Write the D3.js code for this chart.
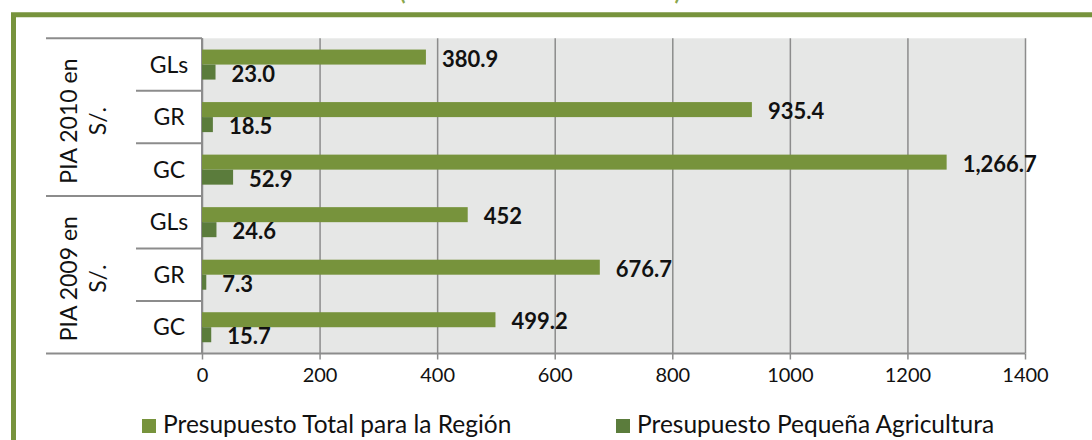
<!DOCTYPE html>
<html>
<head>
<meta charset="utf-8">
<script src="https://cdn.jsdelivr.net/npm/d3@7"></script>
<style>
  body { margin: 0; background: #fff; }
  svg { display: block; font-family: Lato, "Open Sans", sans-serif; }
</style>
</head>
<body>
<div id="chart"></div>
<script>
// data, top row first
var groups = ['PIA 2010 en S/.', 'PIA 2009 en S/.'];
var groupLines = [['PIA 2010 en', 'S/.'], ['PIA 2009 en', 'S/.']];
var categories = ['GLs', 'GR', 'GC'];
var totalValues = [380.9, 935.4, 1266.7, 452, 676.7, 499.2];
var smallValues = [23.0, 18.5, 52.9, 24.6, 7.3, 15.7];
var totalLabels = ['380.9', '935.4', '1,266.7', '452', '676.7', '499.2'];
var smallLabels = ['23.0', '18.5', '52.9', '24.6', '7.3', '15.7'];
var seriesNames = ['Presupuesto Total para la Región', 'Presupuesto Pequeña Agricultura'];
var xTicks = [0, 200, 400, 600, 800, 1000, 1200, 1400];

var W = 1092, H = 440;
var green = '#77933c', darkGreen = '#5b7c3c', gridGray = '#8c8c8c';
var plot = {left: 202, right: 1025, top: 38.3, bottom: 353.5};

var svg = d3.select('#chart').append('svg')
    .attr('width', W)
    .attr('height', H);

// title, mostly cut off at the top (as in the source picture)
svg.append('text')
    .attr('x', 540).attr('y', 0)
    .attr('text-anchor', 'middle')
    .attr('font-weight', 'bold')
    .attr('font-size', 22)
    .attr('fill', '#8aa64c')
    .text('(en millones de nuevos soles)');

// green frame (top + left)
svg.append('path')
    .attr('d', 'M13.5,' + H + 'V14.7H' + W)
    .attr('fill', 'none')
    .attr('stroke', green)
    .attr('stroke-width', 5);

// rows
var rows = [];
groups.forEach(function (g, gi) {
    categories.forEach(function (c, ci) {
        var i = gi * categories.length + ci;
        rows.push({key: g + '|' + c, group: gi, cat: c,
            total: totalValues[i], small: smallValues[i],
            totalLabel: totalLabels[i], smallLabel: smallLabels[i]});
    });
});

var x = d3.scaleLinear().domain([0, 1400]).range([plot.left, plot.right]);
var y = d3.scaleBand()
    .domain(rows.map(function (d) { return d.key; }))
    .range([plot.top, plot.bottom]);
var ySeries = d3.scaleBand()
    .domain(['total', 'small'])
    .range([0, y.bandwidth()])
    .paddingInner(0)
    .paddingOuter(0.75);

// plot background
svg.append('rect')
    .attr('x', plot.left).attr('y', plot.top)
    .attr('width', plot.right - plot.left)
    .attr('height', plot.bottom - plot.top)
    .attr('fill', '#e6e7e6');

// gridlines + ticks
var xAxis = d3.axisBottom(x)
    .tickValues(xTicks)
    .tickSize(-(plot.bottom - plot.top))
    .tickFormat('');
var grid = svg.append('g')
    .attr('transform', 'translate(0,' + plot.bottom + ')')
    .call(xAxis);
grid.select('.domain').remove();
grid.selectAll('line').attr('stroke', gridGray).attr('stroke-width', 1.5);

var xAxis2 = d3.axisBottom(x)
    .tickValues(xTicks)
    .tickSize(6)
    .tickPadding(8)
    .tickFormat(d3.format('d'));
var axis = svg.append('g')
    .attr('transform', 'translate(0,' + plot.bottom + ')')
    .call(xAxis2);
axis.select('.domain')
    .attr('d', 'M' + plot.left + ',0H' + plot.right)
    .attr('stroke', gridGray).attr('stroke-width', 2);
axis.selectAll('line').attr('stroke', gridGray).attr('stroke-width', 1.5);
axis.selectAll('text')
    .attr('font-family', 'Lato, sans-serif')
    .attr('font-size', 20)
    .attr('fill', '#111');

// vertical category axis line
svg.append('line')
    .attr('x1', plot.left).attr('x2', plot.left)
    .attr('y1', plot.top).attr('y2', plot.bottom)
    .attr('stroke', gridGray).attr('stroke-width', 2);

// category table lines
var tableLeft = 46, catLeft = 136;
var lines = svg.append('g').attr('stroke', gridGray).attr('stroke-width', 2);
rows.forEach(function (d, i) {
    var yy = y(d.key);
    var first = i % categories.length === 0;
    lines.append('line')
        .attr('x1', first ? tableLeft : catLeft).attr('x2', plot.left)
        .attr('y1', yy).attr('y2', yy);
});
lines.append('line')
    .attr('x1', tableLeft).attr('x2', plot.left)
    .attr('y1', plot.bottom).attr('y2', plot.bottom);

// category labels
svg.append('g').selectAll('text')
    .data(rows)
    .join('text')
    .attr('x', (catLeft + plot.left) / 2)
    .attr('y', function (d) { return y(d.key) + y.bandwidth() / 2; })
    .attr('dy', '0.35em')
    .attr('text-anchor', 'middle')
    .attr('font-size', 23)
    .attr('fill', '#111')
    .text(function (d) { return d.cat; });

// group labels (rotated, two lines)
groupLines.forEach(function (gl, gi) {
    var first = rows[gi * categories.length];
    var last = rows[gi * categories.length + categories.length - 1];
    var cy = (y(first.key) + y(last.key) + y.bandwidth()) / 2 + 4;
    var t = svg.append('text')
        .attr('transform', 'translate(77,' + cy + ') rotate(-90)')
        .attr('text-anchor', 'middle')
        .attr('font-size', 23)
        .attr('fill', '#111');
    gl.forEach(function (line, li) {
        t.append('tspan')
            .attr('x', 0)
            .attr('y', li * 29)
            .text(line);
    });
});

// bars
var bars = svg.append('g');
bars.selectAll('rect.total')
    .data(rows)
    .join('rect')
    .attr('class', 'total')
    .attr('x', x(0))
    .attr('y', function (d) { return y(d.key) + ySeries('total'); })
    .attr('width', function (d) { return x(d.total) - x(0); })
    .attr('height', ySeries.bandwidth())
    .attr('fill', green);
bars.selectAll('rect.small')
    .data(rows)
    .join('rect')
    .attr('class', 'small')
    .attr('x', x(0))
    .attr('y', function (d) { return y(d.key) + ySeries('small'); })
    .attr('width', function (d) { return x(d.small) - x(0); })
    .attr('height', ySeries.bandwidth())
    .attr('fill', darkGreen);

// value labels
var labels = svg.append('g')
    .attr('font-weight', 'bold')
    .attr('font-size', 22)
    .attr('fill', '#111');
labels.selectAll('text.total')
    .data(rows)
    .join('text')
    .attr('class', 'total')
    .attr('x', function (d) { return x(d.total) + 16; })
    .attr('y', function (d) { return y(d.key) + ySeries('total') + ySeries.bandwidth() / 2 + 2; })
    .attr('dy', '0.35em')
    .text(function (d) { return d.totalLabel; });
labels.selectAll('text.small')
    .data(rows)
    .join('text')
    .attr('class', 'small')
    .attr('x', function (d) { return x(d.small) + 16; })
    .attr('y', function (d) { return y(d.key) + ySeries('small') + ySeries.bandwidth() / 2 + 2; })
    .attr('dy', '0.35em')
    .text(function (d) { return d.smallLabel; });

// legend
var legendX = [142, 616];
var legendColors = [green, darkGreen];
var legend = svg.append('g').selectAll('g')
    .data(seriesNames)
    .join('g')
    .attr('transform', function (d, i) { return 'translate(' + legendX[i] + ',419)'; });
legend.append('rect')
    .attr('width', 14).attr('height', 14)
    .attr('fill', function (d, i) { return legendColors[i]; });
legend.append('text')
    .attr('x', 21).attr('y', 14)
    .attr('font-size', 24.5)
    .attr('fill', '#111')
    .text(function (d) { return d; });
</script>
</body>
</html>
